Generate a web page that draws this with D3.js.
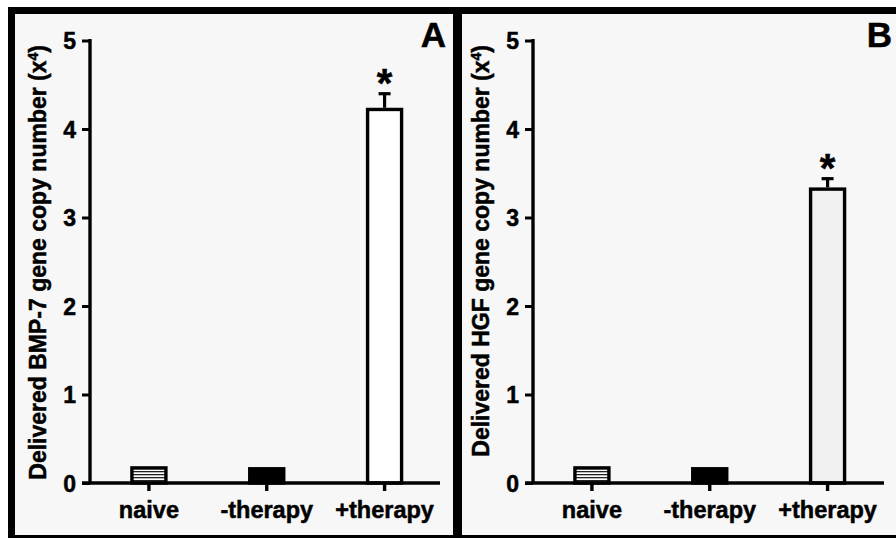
<!DOCTYPE html>
<html>
<head>
<meta charset="utf-8">
<script src="https://cdn.jsdelivr.net/npm/d3@7"></script>
<style>
  html, body { margin: 0; padding: 0; background: #fff; }
  svg { display: block; }
  text { font-family: "Liberation Sans", Arial, sans-serif; font-weight: bold; fill: #000; stroke: #000; stroke-width: 0.5px; }
</style>
</head>
<body>
<div id="chart"></div>
<script>
// ---- data ----
const categories = ["naive", "-therapy", "+therapy"];
const yTicks = [0, 1, 2, 3, 4, 5];
const bmp7Values = [0.19, 0.18, 4.24];
const bmp7Errors = [0, 0, 0.17];
const hgfValues = [0.19, 0.18, 3.34];
const hgfErrors = [0, 0, 0.11];
const significant = [false, false, true];
const panelLetters = ["A", "B"];
const titleA = "Delivered BMP-7 gene copy number";
const titleB = "Delivered HGF gene copy number";

// ---- layout ----
const W = 896, H = 538;
const svg = d3.select("#chart").append("svg").attr("width", W).attr("height", H);
svg.append("rect").attr("width", W).attr("height", H).attr("fill", "#fff");

const defs = svg.append("defs");
const pat = defs.append("pattern").attr("id", "stripes")
  .attr("patternUnits", "userSpaceOnUse").attr("width", 6).attr("height", 3);
pat.append("rect").attr("width", 6).attr("height", 3).attr("fill", "#fff");
pat.append("rect").attr("y", 0).attr("width", 6).attr("height", 1.3).attr("fill", "#222");

// frame
svg.append("rect").attr("x", 8).attr("y", 7).attr("width", W - 8).attr("height", H - 7).attr("fill", "#000");
svg.append("rect").attr("x", 15).attr("y", 14).attr("width", 438).attr("height", 521).attr("fill", "#f7f7f7");
svg.append("rect").attr("x", 462).attr("y", 14).attr("width", W - 462).attr("height", 521).attr("fill", "#f7f7f7");

const y = d3.scaleLinear().domain([0, 5]).range([483, 40.5]);

const panels = [
  { letter: panelLetters[0], title: titleA, values: bmp7Values, errors: bmp7Errors,
    axisX: 90, rangeEnd: 443.5, xEnd: 440, letterX: 446, topFill: "#ffffff" },
  { letter: panelLetters[1], title: titleB, values: hgfValues, errors: hgfErrors,
    axisX: 533, rangeEnd: 886.5, xEnd: 884, letterX: 892, topFill: "#f0f0f0" }
];

const fills = ["url(#stripes)", "#000", null];

panels.forEach(p => {
  const g = svg.append("g");
  const x = d3.scaleBand().domain(categories).range([p.axisX, p.rangeEnd]).padding(0);
  const bw = 34;

  // y axis
  const yAxis = d3.axisLeft(y).tickValues(yTicks).tickFormat(d3.format("d"))
    .tickSize(8).tickPadding(6).tickSizeOuter(0);
  const ya = g.append("g").attr("transform", `translate(${p.axisX},0)`).call(yAxis);
  ya.attr("font-size", null).attr("font-family", null);
  ya.select(".domain").remove();
  ya.selectAll(".tick line").attr("stroke", "#000").attr("stroke-width", 3);
  ya.selectAll(".tick text").attr("font-size", 23).attr("fill", "#000").attr("dy", "0.36em");
  g.append("line").attr("x1", p.axisX).attr("x2", p.axisX).attr("y1", y(5) - 1.5).attr("y2", y(0))
    .attr("stroke", "#000").attr("stroke-width", 3.4);

  // x axis
  const xAxis = d3.axisBottom(x).tickSize(8).tickPadding(10).tickSizeOuter(0);
  const xa = g.append("g").attr("transform", `translate(0,${y(0)})`).call(xAxis);
  xa.attr("font-size", null).attr("font-family", null);
  xa.select(".domain").remove();
  xa.selectAll(".tick line").attr("stroke", "#000").attr("stroke-width", 3.4);
  xa.selectAll(".tick text").attr("font-size", 23.5).attr("fill", "#000");

  // bars
  const sw = 3.4;
  categories.forEach((c, i) => {
    const cx = x(c) + x.bandwidth() / 2;
    const v = p.values[i];
    const fill = fills[i] || p.topFill;
    g.append("rect")
      .attr("x", cx - bw / 2).attr("y", y(v) + sw / 2)
      .attr("width", bw).attr("height", y(0) - y(v) - sw / 2)
      .attr("fill", fill).attr("stroke", "#000").attr("stroke-width", sw);
    if (p.errors[i] > 0) {
      const top = y(v + p.errors[i]);
      g.append("line").attr("x1", cx).attr("x2", cx).attr("y1", y(v)).attr("y2", top)
        .attr("stroke", "#000").attr("stroke-width", 3.2);
      g.append("line").attr("x1", cx - 6).attr("x2", cx + 6).attr("y1", top + 1).attr("y2", top + 1)
        .attr("stroke", "#000").attr("stroke-width", 3.2);
      if (significant[i]) {
        g.append("text").attr("x", cx).attr("y", top + 4)
          .attr("text-anchor", "middle").attr("font-size", 40).text("*");
      }
    }
  });

  // x axis line
  g.append("line").attr("x1", p.axisX - 8).attr("x2", p.xEnd).attr("y1", y(0)).attr("y2", y(0))
    .attr("stroke", "#000").attr("stroke-width", 3.4);

  // y title
  const t = g.append("text")
    .attr("transform", `translate(${p.axisX - 52},45) rotate(-90)`)
    .attr("text-anchor", "end").attr("dy", "0.36em").attr("font-size", 23);
  t.append("tspan").text(p.title + " (x");
  t.append("tspan").attr("font-size", 14).attr("baseline-shift", "super").text("4");
  t.append("tspan").text(")");

  // panel letter
  g.append("text").attr("x", p.letterX).attr("y", 47).attr("text-anchor", "end")
    .attr("font-size", 35).text(p.letter);
});
</script>
</body>
</html>
